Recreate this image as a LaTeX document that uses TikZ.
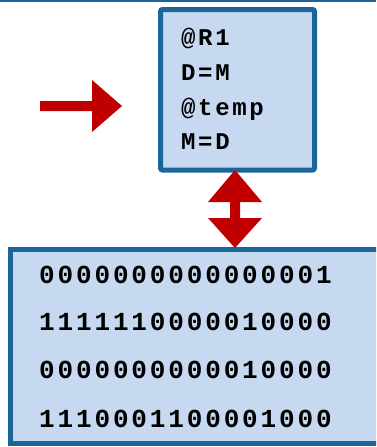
\documentclass[tikz,border=0pt]{standalone}
\usepackage{fontspec}
\usetikzlibrary{calc}
\newfontfamily\codefont{Liberation Mono}[LetterSpace=11]
\begin{document}
\begin{tikzpicture}[x=1pt,y=-1pt]
\definecolor{boxblue}{HTML}{1A6699}
\definecolor{boxfill}{HTML}{C6D9F1}
\definecolor{arrowred}{HTML}{C00000}
\tikzset{
  panel/.style={draw=boxblue,fill=boxfill,line width=5pt,inner sep=0pt,outer sep=0pt},
  codetxt/.style={anchor=base west,inner sep=0pt,font=\codefont\bfseries\fontsize{24}{24}\selectfont},
  bintxt/.style={anchor=base west,inner sep=0pt,font=\codefont\bfseries\fontsize{26}{26}\selectfont},
  bigarrow/.style={fill=arrowred}
}
\useasboundingbox (0,0) rectangle (376,447);
\clip (0,0) rectangle (376,447);
\coordinate (ruleL) at (0,1);
\coordinate (ruleR) at (376,1);
\draw[boxblue,line width=2pt] (ruleL) -- (ruleR);
\node[panel,rounded corners=2pt,minimum width=154pt,minimum height=160.5pt] (code) at (237.5,89.75) {};
\node[panel,minimum width=389.5pt,minimum height=193.5pt] (bin) at (205.25,346.25) {};
\node[codetxt] (c1) at (181,45) {@R1};
\node[codetxt] (c2) at (181,80) {D=M};
\node[codetxt] (c3) at (181,115) {@temp};
\node[codetxt] (c4) at (181,149) {M=D};
\node[bintxt] (b1) at (39,283) {0000000000000001};
\node[bintxt] (b2) at (39,330) {1111110000010000};
\node[bintxt] (b3) at (39,378) {0000000000010000};
\node[bintxt] (b4) at (39,427) {1110001100001000};
% double arrow between the boxes
\coordinate (dtop) at ($(code.south)+(-2.5,0)$);
\coordinate (dbot) at ($(dtop |- bin.north)+(0,-1.5)$);
\fill[bigarrow] (dtop) -- ++(27,32) -- ++(-22,0) -- ++(0,16) -- ++(22,0) -- (dbot)
  -- ++(-27,-30) -- ++(22,0) -- ++(0,-16) -- ++(-22,0) -- cycle;
% right arrow
\coordinate (rtip) at (122,106);
\fill[bigarrow] (rtip) -- ++(-30,-26) -- ++(0,21) -- ++(-52,0) -- ++(0,10) -- ++(52,0) -- ++(0,21) -- cycle;
\end{tikzpicture}
\end{document}
